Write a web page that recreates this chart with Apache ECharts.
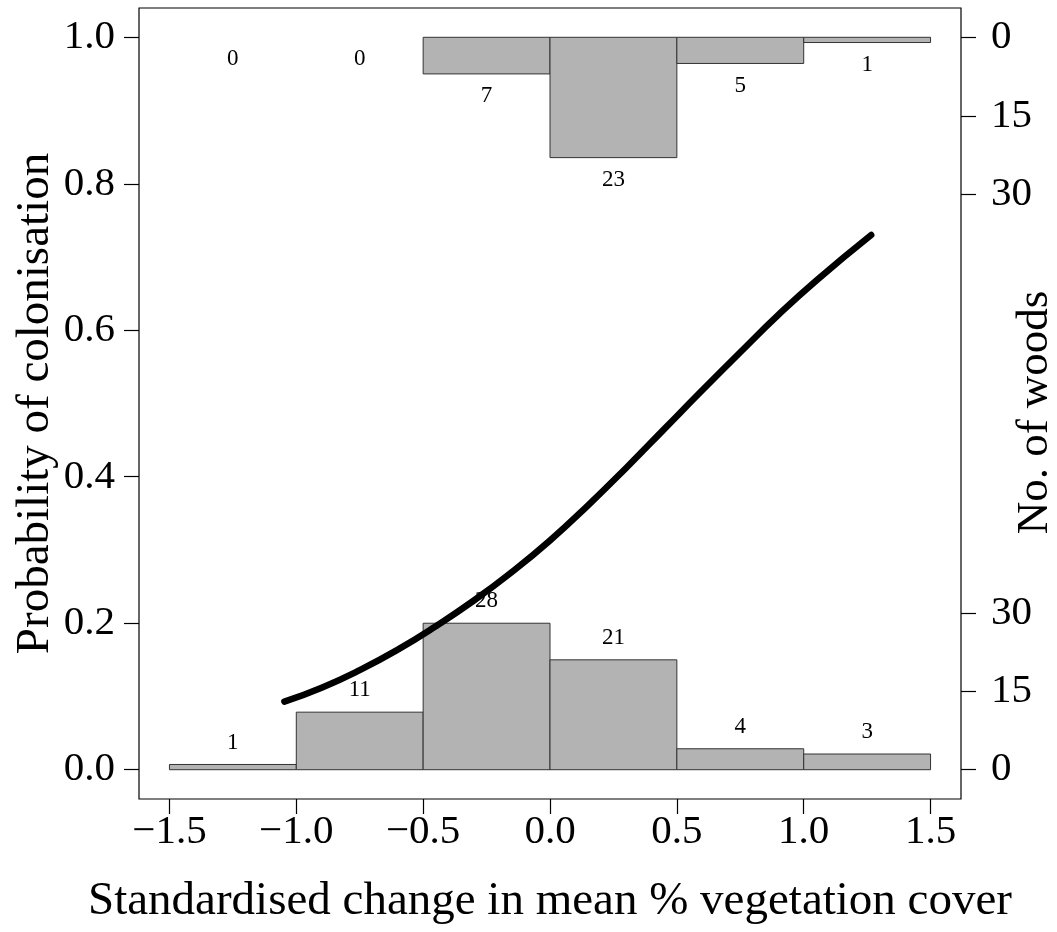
<!DOCTYPE html>
<html>
<head>
<meta charset="utf-8">
<script src="https://cdn.jsdelivr.net/npm/echarts@6/dist/echarts.min.js"></script>
<style>html,body{margin:0;padding:0;background:#fff}#c{width:1057px;height:932px}</style>
</head>
<body>
<div id="c"></div>
<script>
// Histogram bins (standardised change), counts of woods
const binStarts = [-1.5, -1.0, -0.5, 0.0, 0.5, 1.0];
const binEnds   = [-1.0, -0.5, 0.0, 0.5, 1.0, 1.5];
const bottomCounts = [1, 11, 28, 21, 4, 3];   // not colonised (drawn from 0 up)
const topCounts    = [0, 0, 7, 23, 5, 1];     // colonised (drawn from top down)
// Fitted curve
const curveX = [-1.047, -0.9, -0.75, -0.6, -0.45, -0.3, -0.15, 0.0, 0.15, 0.3, 0.45, 0.6, 0.75, 0.9, 1.05, 1.266];
const curveY = [0.093, 0.112, 0.136, 0.164, 0.196, 0.231, 0.270, 0.313, 0.361, 0.412, 0.465, 0.518, 0.570, 0.621, 0.668, 0.730];
// Tick labels
const xTicks = [-1.5, -1.0, -0.5, 0.0, 0.5, 1.0, 1.5];
const yTicks = [0.0, 0.2, 0.4, 0.6, 0.8, 1.0];
const countTicks = [0, 15, 30];
const COUNT_PER_UNIT = 140;       // counts corresponding to probability 1.0
const TOP_BASE = COUNT_PER_UNIT;  // top histogram hangs from probability 1.0

const FONT = '"Liberation Serif","Times New Roman",serif';
const minus = s => s.replace('-', '\u2212');

const rightTickValues = countTicks.concat(countTicks.map(c => TOP_BASE - c));

const histData = [];
binStarts.forEach((s, i) => {
  histData.push([s, binEnds[i], bottomCounts[i], 0]);
  histData.push([s, binEnds[i], topCounts[i], 1]);
});

function renderHist(params, api) {
  const x0 = api.value(0), x1 = api.value(1), n = api.value(2), top = api.value(3);
  const base = top ? TOP_BASE : 0;
  const end = top ? TOP_BASE - n : n;
  const p0 = api.coord([x0, base]);
  const p1 = api.coord([x1, end]);
  const children = [];
  if (n > 0) {
    children.push({
      type: 'rect',
      shape: { x: p0[0], y: Math.min(p0[1], p1[1]), width: p1[0] - p0[0], height: Math.abs(p1[1] - p0[1]) },
      style: { fill: '#b3b3b3', stroke: '#333333', lineWidth: 1 }
    });
  }
  children.push({
    type: 'text',
    style: {
      text: String(n), x: (p0[0] + p1[0]) / 2, y: p1[1] + (top ? 22 : -22),
      align: 'center', verticalAlign: 'middle', fontSize: 23, fontFamily: FONT, fill: '#000'
    }
  });
  return { type: 'group', children };
}

const tickStyle = { color: '#000', width: 1.2 };
const chart = echarts.init(document.getElementById('c'));
chart.setOption({
  animation: false,
  backgroundColor: '#ffffff',
  grid: { left: 139, right: 96, top: 8, bottom: 133, containLabel: false, outerBoundsMode: 'none',
          show: true, borderColor: '#000', borderWidth: 1.2, backgroundColor: 'transparent' },
  xAxis: {
    type: 'value', min: -1.62, max: 1.62,
    name: 'Standardised change in mean % vegetation cover',
    nameLocation: 'middle', nameGap: 79, nameMoveOverlap: false,
    nameTextStyle: { fontFamily: FONT, fontSize: 47, color: '#000' },
    axisLine: { show: false, onZero: false }, splitLine: { show: false },
    axisTick: { show: true, inside: false, length: 15, customValues: xTicks, lineStyle: tickStyle },
    axisLabel: { customValues: xTicks, margin: 13, fontFamily: FONT, fontSize: 41, color: '#000',
      formatter: v => minus(v.toFixed(1)) }
  },
  yAxis: [{
    type: 'value', min: -0.04, max: 1.04,
    name: 'Probability of colonisation',
    nameLocation: 'middle', nameGap: 80, nameMoveOverlap: false,
    nameTextStyle: { fontFamily: FONT, fontSize: 47, color: '#000' },
    axisLine: { show: false, onZero: false }, splitLine: { show: false },
    axisTick: { show: true, length: 15, customValues: yTicks, lineStyle: tickStyle },
    axisLabel: { customValues: yTicks, margin: 24, fontFamily: FONT, fontSize: 41, color: '#000',
      formatter: v => v.toFixed(1) }
  }, {
    type: 'value', position: 'right',
    min: -0.04 * COUNT_PER_UNIT, max: 1.04 * COUNT_PER_UNIT,
    name: 'No. of woods',
    nameLocation: 'middle', nameGap: 52, nameMoveOverlap: false,
    nameTextStyle: { fontFamily: FONT, fontSize: 45, color: '#000', padding: [0, 18, 0, 0] },
    axisLine: { show: false, onZero: false }, splitLine: { show: false },
    axisTick: { show: true, length: 15, customValues: rightTickValues, lineStyle: tickStyle },
    axisLabel: { customValues: rightTickValues, margin: 30, fontFamily: FONT, fontSize: 41, color: '#000',
      formatter: v => String(v <= 30 ? Math.round(v) : Math.round(TOP_BASE - v)) }
  }],
  series: [{
    type: 'custom', yAxisIndex: 1, renderItem: renderHist,
    encode: { x: [0, 1], y: 2 }, data: histData, z: 2, clip: false
  }, {
    type: 'line', yAxisIndex: 0, smooth: true, symbol: 'none', z: 3,
    lineStyle: { color: '#000', width: 6.5, cap: 'round' },
    data: curveX.map((x, i) => [x, curveY[i]])
  }]
});
</script>
</body>
</html>
